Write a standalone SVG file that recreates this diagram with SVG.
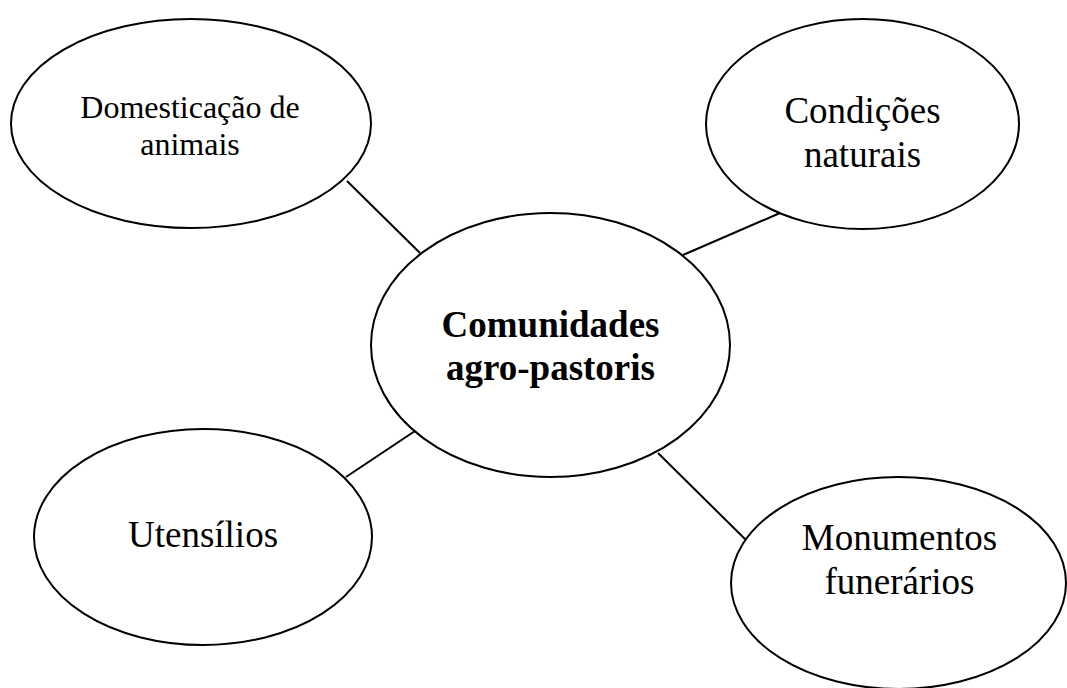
<svg xmlns="http://www.w3.org/2000/svg" width="1067" height="688" viewBox="0 0 1067 688">
<style>
.node{fill:#fff;stroke:#000;stroke-width:2}
.lbl{font-family:"Liberation Serif","Times New Roman",serif;fill:#000;text-anchor:middle}
.conn{stroke:#000;stroke-width:2;fill:none}
</style>
<rect width="1067" height="688" fill="#fff"/>
<g id="connectors">
<line class="conn" x1="347" y1="181" x2="420" y2="253"/>
<line class="conn" x1="683" y1="255" x2="780" y2="213"/>
<line class="conn" x1="346" y1="477" x2="418" y2="429"/>
<line class="conn" x1="658" y1="453" x2="746" y2="540"/>
</g>
<g id="domesticacao">
<ellipse class="node" cx="191" cy="123.5" rx="180" ry="104.5"/>
<text class="lbl" font-size="32" x="190" y="118">Domesticação de</text>
<text class="lbl" font-size="32" x="190" y="155">animais</text>
</g>
<g id="condicoes">
<ellipse class="node" cx="862.5" cy="124" rx="156.5" ry="105"/>
<text class="lbl" font-size="37" x="862.5" y="123">Condições</text>
<text class="lbl" font-size="37" x="862.5" y="167">naturais</text>
</g>
<g id="comunidades">
<ellipse class="node" cx="550.5" cy="345" rx="179.5" ry="132"/>
<text class="lbl" font-size="37" font-weight="bold" x="550.5" y="337">Comunidades</text>
<text class="lbl" font-size="37" font-weight="bold" x="550.5" y="380">agro-pastoris</text>
</g>
<g id="utensilios">
<ellipse class="node" cx="203" cy="537" rx="169" ry="108"/>
<text class="lbl" font-size="37" x="203" y="547">Utensílios</text>
</g>
<g id="monumentos">
<ellipse class="node" cx="898.5" cy="583" rx="167.5" ry="106"/>
<text class="lbl" font-size="37" x="899.5" y="550">Monumentos</text>
<text class="lbl" font-size="37" x="899.5" y="594">funerários</text>
</g>
</svg>
